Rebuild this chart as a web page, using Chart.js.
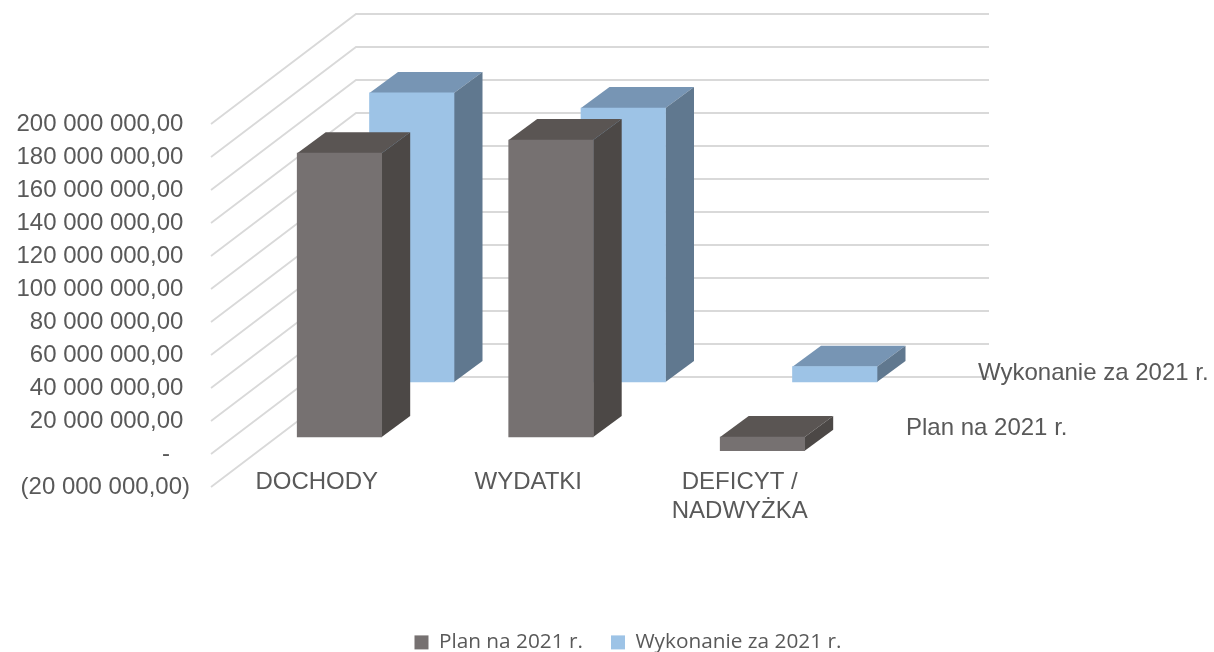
<!DOCTYPE html>
<html lang="pl">
<head>
<meta charset="utf-8">
<title>Plan i wykonanie 2021</title>
<script src="https://cdn.jsdelivr.net/npm/chart.js@4/dist/chart.umd.min.js"></script>
<style>
    html, body { margin: 0; padding: 0; background: #ffffff; }
    canvas { display: block; }
</style>
</head>
<body>
<canvas id="wykres" width="1214" height="652"></canvas>
<script>
const categories = ['DOCHODY', 'WYDATKI', ['DEFICYT /', 'NADWYŻKA']];
const planValues = [172000000, 180000000, -8300000];
const wykonanieValues = [175200000, 166000000, 9300000];
const seriesNames = ['Plan na 2021 r.', 'Wykonanie za 2021 r.'];
// the trailing spaces come from the accounting number format
const yTickLabels = [
    '(20 000 000,00)', '-   ', '20 000 000,00 ', '40 000 000,00 ', '60 000 000,00 ', '80 000 000,00 ',
    '100 000 000,00 ', '120 000 000,00 ', '140 000 000,00 ', '160 000 000,00 ', '180 000 000,00 ', '200 000 000,00 '
];

const textColor = '#595959';
const axisFont = { family: '"Liberation Sans", Arial, sans-serif', size: 24 };

// depth of the fake 3D box and of each bar
const wall = { dx: 145, dy: -110 };
const barDepth = { dx: 28.5, dy: -21 };
const looks = [
    { shiftX: 22.7, shiftY: -17, front: '#767171', top: '#5a5553', side: '#4c4846', labelX: 906, labelY: 428 },
    { shiftX: 95, shiftY: -72, front: '#9dc3e6', top: '#7795b4', side: '#60788f', labelX: 978, labelY: 373 }
];

function face(ctx, color, points) {
    ctx.fillStyle = color;
    ctx.beginPath();
    points.forEach((p, i) => i ? ctx.lineTo(p[0], p[1]) : ctx.moveTo(p[0], p[1]));
    ctx.closePath();
    ctx.fill();
}

const fake3d = {
    id: 'fake3d',
    afterLayout(chart) {
        // the legend sits a bit right of the middle and low on the page
        chart.legend.left = 42;
        chart.legend.right = 1214;
        chart.legend.top = 604;
        // category labels start above the bottom of the plot, and the scale clips them to its box
        chart.scales.x.top -= 30;
    },
    beforeDatasetsDraw(chart) {
        const { ctx, chartArea, scales } = chart;
        ctx.save();
        ctx.strokeStyle = '#d9d9d9';
        ctx.lineWidth = 1.8;
        scales.y.ticks.forEach((t, i) => {
            const y = scales.y.getPixelForTick(i);
            ctx.beginPath();
            ctx.moveTo(chartArea.left, y);
            ctx.lineTo(chartArea.left + wall.dx, y + wall.dy);
            ctx.lineTo(chartArea.right + wall.dx - 1.5, y + wall.dy);
            ctx.stroke();
        });
        ctx.restore();
    },
    beforeDatasetDraw(chart, args) {
        const { ctx } = chart;
        const look = looks[args.index];
        ctx.save();
        ctx.translate(look.shiftX, look.shiftY);
        args.meta.data.forEach(bar => {
            const left = bar.x - bar.width / 2;
            const right = bar.x + bar.width / 2;
            const high = Math.min(bar.y, bar.base);
            const low = Math.max(bar.y, bar.base);
            face(ctx, look.top, [[left, high], [right, high], [right + barDepth.dx, high + barDepth.dy], [left + barDepth.dx, high + barDepth.dy]]);
            face(ctx, look.side, [[right, high], [right + barDepth.dx, high + barDepth.dy], [right + barDepth.dx, low + barDepth.dy], [right, low]]);
        });
    },
    afterDatasetDraw(chart) {
        chart.ctx.restore();
    },
    afterDraw(chart) {
        // series names along the depth axis
        const { ctx } = chart;
        ctx.save();
        ctx.fillStyle = textColor;
        ctx.font = axisFont.size + 'px ' + axisFont.family;
        ctx.textBaseline = 'middle';
        looks.forEach((look, i) => ctx.fillText(seriesNames[i], look.labelX, look.labelY));
        ctx.restore();
    }
};

new Chart(document.getElementById('wykres').getContext('2d'), {
    type: 'bar',
    data: {
        labels: categories,
        datasets: [
            { label: seriesNames[0], data: planValues, backgroundColor: looks[0].front },
            { label: seriesNames[1], data: wykonanieValues, backgroundColor: looks[1].front }
        ]
    },
    plugins: [fake3d],
    options: {
        responsive: false,
        animation: false,
        clip: false,
        grouped: false,
        barThickness: 84.5,
        layout: { padding: { top: 124, right: 368.5 } },
        scales: {
            x: {
                grid: { display: false },
                border: { display: false },
                // keeps the bottom of the plot at y=487 whatever the legend takes
                afterFit(scale) { scale.height = 165 - scale.chart.legend.height; },
                ticks: { color: textColor, font: axisFont, padding: 3, autoSkip: false, maxRotation: 0 }
            },
            y: {
                min: -20000000,
                max: 200000000,
                grid: { display: false },
                border: { display: false },
                afterFit(scale) { scale.width = 211; },
                ticks: {
                    stepSize: 20000000,
                    autoSkip: false,
                    color: textColor,
                    font: axisFont,
                    padding: 13,
                    callback: (value, index) => yTickLabels[index]
                }
            }
        },
        plugins: {
            tooltip: { enabled: false },
            legend: {
                position: 'bottom',
                labels: {
                    boxWidth: 14,
                    boxHeight: 14,
                    padding: 28,
                    color: textColor,
                    font: { family: '"Open Sans", sans-serif', size: 20.8 }
                }
            }
        }
    }
});
</script>
</body>
</html>
